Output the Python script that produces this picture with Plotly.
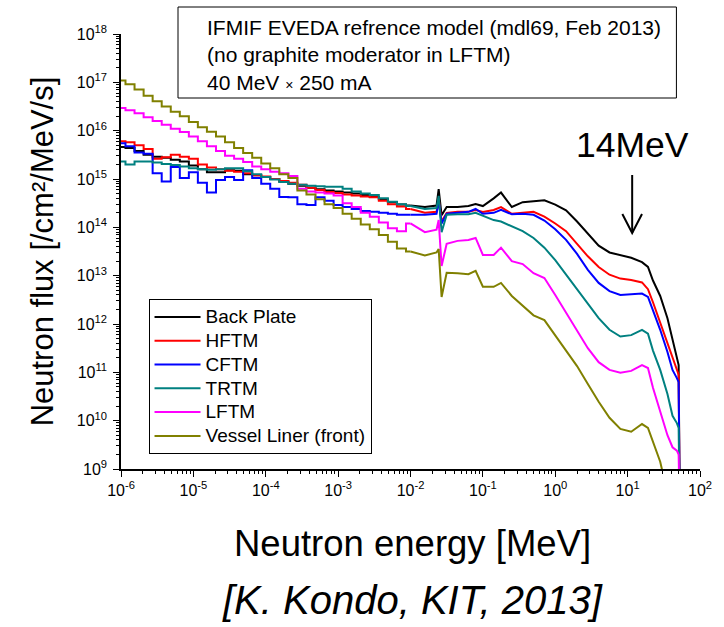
import plotly.graph_objects as go

# ---------------- data ----------------
energy_mev = [
    1.00e-6, 1.33e-6, 1.78e-6, 2.37e-6, 3.16e-6, 4.22e-6, 5.62e-6, 7.50e-6,
    1.00e-5, 1.33e-5, 1.78e-5, 2.37e-5, 3.16e-5, 4.22e-5, 5.62e-5, 7.50e-5,
    1.00e-4, 1.33e-4, 1.78e-4, 2.37e-4, 3.16e-4, 4.22e-4, 5.62e-4, 7.50e-4,
    1.00e-3, 1.33e-3, 1.78e-3, 2.37e-3, 3.16e-3, 4.22e-3, 5.62e-3, 7.50e-3,
    1.00e-2,
    0.0158, 0.0229, 0.0245, 0.0269, 0.0316, 0.0447, 0.0631, 0.0794, 0.100,
    0.141, 0.178, 0.251, 0.355, 0.501, 0.708, 1.00, 1.41, 2.00, 2.82, 3.98,
    5.62, 7.94, 11.2, 15.8, 19.1, 22.4, 28.2, 35.5, 41.7, 47.9, 50.7, 52.5,
]

# log10 of flux [/cm2/MeV/s]
log_flux_back_plate = [
    15.66, 15.64, 15.58, 15.50, 15.46, 15.44, 15.40, 15.36, 15.28, 15.20, 15.14,
    15.14, 15.18, 15.17, 15.10, 15.08, 15.04, 15.00, 14.95, 14.90, 14.86, 14.82,
    14.79, 14.76, 14.74, 14.72, 14.70, 14.67, 14.63, 14.58, 14.52, 14.47, 14.45,
    14.42, 14.45, 14.79, 14.25, 14.42, 14.42, 14.44, 14.48, 14.44, 14.60, 14.72,
    14.42, 14.52, 14.54, 14.56, 14.47, 14.35, 14.12, 13.88, 13.62, 13.48, 13.42,
    13.37, 13.28, 13.18, 12.90, 12.58, 12.12, 11.70, 11.30, 11.15, 8.0,
]
log_flux_hftm = [
    15.78, 15.76, 15.70, 15.62, 15.42, 15.45, 15.50, 15.46, 15.42, 15.30, 15.24,
    15.20, 15.17, 15.15, 15.12, 15.08, 15.05, 15.00, 14.96, 14.92, 14.88, 14.82,
    14.77, 14.73, 14.71, 14.68, 14.66, 14.64, 14.62, 14.55, 14.48, 14.43, 14.38,
    14.30, 14.32, 14.60, 14.12, 14.30, 14.32, 14.32, 14.36, 14.32, 14.36, 14.42,
    14.28, 14.30, 14.32, 14.22, 14.08, 13.92, 13.66, 13.40, 13.18, 13.02, 12.94,
    12.91, 12.86, 12.72, 12.45, 12.03, 11.60, 11.30, 11.08, 10.95, 8.0,
]
log_flux_cftm = [
    15.74, 15.68, 15.55, 15.52, 15.12, 14.95, 15.25, 15.02, 15.14, 14.92, 14.72,
    14.98, 15.04, 14.98, 15.18, 15.02, 14.90, 14.80, 14.63, 14.62, 14.48, 14.46,
    14.62, 14.55, 14.46, 14.42, 14.38, 14.34, 14.32, 14.30, 14.28, 14.26, 14.26,
    14.26, 14.28, 14.55, 14.08, 14.28, 14.30, 14.32, 14.38, 14.28, 14.30, 14.36,
    14.27, 14.28, 14.26, 14.14, 13.96, 13.74, 13.45, 13.12, 12.85, 12.68, 12.60,
    12.62, 12.63, 12.56, 12.28, 11.88, 11.42, 11.05, 10.88, 10.80, 8.0,
]
log_flux_trtm = [
    15.36, 15.30, 15.36, 15.36, 15.34, 15.31, 15.29, 15.26, 15.22, 15.20, 15.19,
    15.20, 15.22, 15.22, 15.16, 15.10, 15.04, 14.99, 14.94, 14.90, 14.88, 14.86,
    14.85, 14.84, 14.84, 14.80, 14.74, 14.70, 14.67, 14.60, 14.53, 14.48, 14.44,
    14.38, 14.40, 14.65, 13.90, 14.26, 14.27, 14.27, 14.30, 14.24, 14.15, 14.12,
    14.02, 13.92, 13.78, 13.58, 13.32, 13.02, 12.70, 12.42, 12.12, 11.88, 11.74,
    11.77, 11.88, 11.80, 11.45, 11.05, 10.55, 10.10, 9.95, 9.85, 8.0,
]
log_flux_lftm = [
    16.47, 16.42, 16.36, 16.28, 16.20, 16.12, 16.04, 15.97, 15.88, 15.78, 15.68,
    15.58, 15.48, 15.42, 15.35, 15.26, 15.20, 15.15, 15.12, 15.06, 14.80, 14.74,
    14.72, 14.70, 14.66, 14.50, 14.42, 14.30, 14.22, 14.10, 13.98, 13.92, 14.08,
    13.90, 13.95, 14.15, 13.20, 13.66, 13.72, 13.74, 13.78, 13.43, 13.43, 13.58,
    13.30, 13.24, 13.05, 12.95, 12.60, 12.23, 11.88, 11.50, 11.21, 11.05, 10.99,
    11.03, 11.15, 11.09, 10.68, 10.18, 9.70, 9.45, 9.38, 9.30, 8.0,
]
log_flux_vessel_liner = [
    17.04, 16.96, 16.85, 16.72, 16.61, 16.50, 16.39, 16.30, 16.18, 16.07, 15.98,
    15.88, 15.76, 15.64, 15.54, 15.44, 15.32, 15.22, 15.10, 15.02, 14.76, 14.68,
    14.58, 14.48, 14.40, 14.28, 14.18, 14.06, 13.96, 13.84, 13.70, 13.56, 13.50,
    13.42, 13.48, 13.55, 12.56, 13.06, 13.05, 13.03, 13.10, 12.77, 12.77, 12.85,
    12.58, 12.38, 12.18, 12.08, 11.77, 11.46, 11.13, 10.76, 10.39, 10.06, 9.83,
    9.77, 9.93, 9.85, 9.55, 9.15, 8.5, None, None, None, None,
]

series_names = ["Back Plate", "HFTM", "CFTM", "TRTM", "LFTM", "Vessel Liner (front)"]
series_colors = ["#000000", "#FF0000", "#0000FF", "#008080", "#FF00FF", "#808000"]
series_logs = [log_flux_back_plate, log_flux_hftm, log_flux_cftm,
               log_flux_trtm, log_flux_lftm, log_flux_vessel_liner]

x_tick_values = [1e-6, 1e-5, 1e-4, 1e-3, 1e-2, 1e-1, 1e0, 1e1, 1e2]
x_tick_labels = ["10<sup>-6</sup>", "10<sup>-5</sup>", "10<sup>-4</sup>", "10<sup>-3</sup>",
                 "10<sup>-2</sup>", "10<sup>-1</sup>", "10<sup>0</sup>", "10<sup>1</sup>",
                 "10<sup>2</sup>"]
y_tick_values = [1e9, 1e10, 1e11, 1e12, 1e13, 1e14, 1e15, 1e16, 1e17, 1e18]
y_tick_labels = ["10<sup>9</sup>", "10<sup>10</sup>", "10<sup>11</sup>", "10<sup>12</sup>",
                 "10<sup>13</sup>", "10<sup>14</sup>", "10<sup>15</sup>", "10<sup>16</sup>",
                 "10<sup>17</sup>", "10<sup>18</sup>"]

info_lines = ["IFMIF EVEDA refrence model (mdl69, Feb 2013)",
              "(no graphite moderator in LFTM)",
              "40 MeV <span style='font-size:14px'>×</span> 250 mA"]

# ---------------- figure ----------------
W, H = 724, 627
L, R, T, B = 121, 710, 34, 469   # plot area in pixels
SPLIT = 32                       # histogram steps drawn below 1e-2 MeV


def px(x):
    return (x - L) / (R - L)


def py(y):
    return (B - y) / (B - T)


FONT = "Liberation Sans, Arial, Helvetica, sans-serif"

fig = go.Figure()
for name, color, logs in zip(series_names, series_colors, series_logs):
    flux = [None if v is None else 10 ** v for v in logs]
    fig.add_trace(go.Scatter(
        x=energy_mev[:SPLIT + 1], y=flux[:SPLIT + 1],
        mode="lines", name=f"<span style='font-size:19px'>{name}</span>",
        legendgroup=name, showlegend=True,
        line=dict(color=color, width=2, shape="hvh"),
    ))
    fig.add_trace(go.Scatter(
        x=energy_mev[SPLIT:], y=flux[SPLIT:],
        mode="lines", name=name, legendgroup=name, showlegend=False,
        line=dict(color=color, width=2),
    ))

minor_x = [m * 10.0 ** d for d in range(-6, 2) for m in range(2, 10)]
minor_y = [m * 10.0 ** d for d in range(9, 18) for m in range(2, 10)]

fig.update_xaxes(
    type="log", range=[-6, 2],
    tickmode="array", tickvals=x_tick_values, ticktext=x_tick_labels,
    ticks="outside", ticklen=6, tickwidth=1.2, tickcolor="black",
    minor=dict(tickmode="array", tickvals=minor_x, ticks="outside", ticklen=3,
               tickwidth=1, tickcolor="black", showgrid=False),
    showline=True, linecolor="black", linewidth=1.5,
    showgrid=False, zeroline=False, mirror=False,
    tickfont=dict(size=16, family=FONT, color="black"),
)
fig.update_yaxes(
    type="log", range=[9, 18],
    tickmode="array", tickvals=y_tick_values, ticktext=y_tick_labels,
    ticks="outside", ticklen=6, tickwidth=1.2, tickcolor="black",
    minor=dict(tickmode="array", tickvals=minor_y, ticks="outside", ticklen=3,
               tickwidth=1, tickcolor="black", showgrid=False),
    showline=True, linecolor="black", linewidth=1.5,
    showgrid=False, zeroline=False, mirror=False,
    tickfont=dict(size=16, family=FONT, color="black"),
    ticklabelstandoff=3,
)

annotations = [
    dict(text="Neutron energy [MeV]", x=px(418), y=py(543), xref="paper", yref="paper",
         xanchor="center", yanchor="middle", showarrow=False,
         font=dict(size=36.5, family=FONT, color="black")),
    dict(text="<i>[K. Kondo, KIT, 2013]</i>", x=px(418), y=py(600), xref="paper", yref="paper",
         xanchor="center", yanchor="middle", showarrow=False,
         font=dict(size=40, family=FONT, color="black")),
    dict(text="Neutron flux [/cm²/MeV/s]", x=px(41), y=py(251), xref="paper", yref="paper",
         xanchor="center", yanchor="middle", showarrow=False, textangle=-90,
         font=dict(size=31, family=FONT, color="black")),
    dict(text="14MeV", x=px(641), y=py(145), xref="paper", yref="paper",
         xanchor="center", yanchor="middle", showarrow=False,
         font=dict(size=35.5, family=FONT, color="black")),
    dict(text="<br>".join(info_lines), x=px(206), y=py(14), xref="paper", yref="paper",
         xanchor="left", yanchor="top", align="left", showarrow=False,
         font=dict(size=21, family=FONT, color="black")),
]

shapes = [
    dict(type="rect", xref="paper", yref="paper",
         x0=px(179), x1=px(686), y0=py(98), y1=py(7),
         line=dict(color="black", width=1), fillcolor="rgba(0,0,0,0)"),
    dict(type="line", xref="paper", yref="paper",
         x0=px(641), x1=px(641), y0=py(175), y1=py(233),
         line=dict(color="black", width=2)),
    dict(type="path", xref="paper", yref="paper",
         path=f"M {px(631)},{py(214)} L {px(641)},{py(233)} L {px(651)},{py(214)}",
         line=dict(color="black", width=2)),
]

fig.update_layout(
    width=W, height=H,
    margin=dict(l=L, r=W - R, t=T, b=H - B, pad=0),
    paper_bgcolor="white", plot_bgcolor="white",
    font=dict(family=FONT, color="black"),
    showlegend=True,
    legend=dict(x=px(149), y=py(299), xanchor="left", yanchor="top",
                bordercolor="black", borderwidth=1, bgcolor="white",
                font=dict(size=16, family=FONT, color="black"),
                itemwidth=46, tracegroupgap=0),
    annotations=annotations,
    shapes=shapes,
)

fig.write_html("out.html")
